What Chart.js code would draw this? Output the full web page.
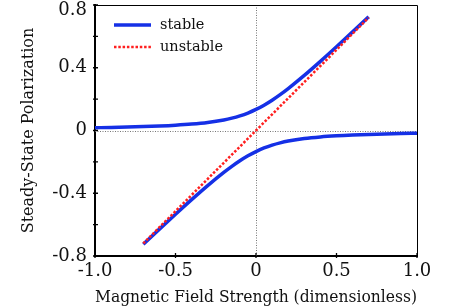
<!DOCTYPE html>
<html>
<head>
<meta charset="utf-8">
<script src="https://cdn.jsdelivr.net/npm/chart.js@4/dist/chart.umd.min.js"></script>
<style>
  html, body { margin: 0; padding: 0; background: #fff; }
</style>
</head>
<body>
<canvas id="polChart" width="471" height="308"></canvas>
<script>
// stable branch, upper
const xUpper = [-1.0, -0.9, -0.8, -0.7, -0.6, -0.5, -0.4, -0.3, -0.2, -0.15, -0.1, -0.05, 0, 0.05, 0.1, 0.15, 0.2, 0.3, 0.4, 0.5, 0.6, 0.7];
const yUpper = [0.0177, 0.0196, 0.0219, 0.0248, 0.0286, 0.0337, 0.0408, 0.0512, 0.0673, 0.0787, 0.0932, 0.1115, 0.1342, 0.1615, 0.1932, 0.2287, 0.2673, 0.3512, 0.4408, 0.5337, 0.6286, 0.7249];
// stable branch, lower
const xLower = [-0.7, -0.6, -0.5, -0.4, -0.3, -0.2, -0.15, -0.1, -0.05, 0, 0.05, 0.1, 0.15, 0.2, 0.3, 0.4, 0.5, 0.6, 0.7, 0.8, 0.9, 1.0];
const yLower = [-0.7249, -0.6286, -0.5337, -0.4408, -0.3512, -0.2673, -0.2287, -0.1932, -0.1615, -0.1342, -0.1115, -0.0932, -0.0787, -0.0673, -0.0512, -0.0408, -0.0337, -0.0286, -0.0248, -0.0219, -0.0196, -0.0177];
// unstable branch
const xUnstable = [-0.7, 0, 0.7];
const yUnstable = [-0.72, 0, 0.72];

const xTickLabels = [-1, -0.5, 0, 0.5, 1];
const yTickLabels = [-0.8, -0.4, 0, 0.4, 0.8];
const seriesNames = ['stable', 'unstable'];

const BLUE = '#1530e6';
const RED = '#ff1f1f';
const FONT = 'DejaVu Serif';

const toPoints = (xs, ys) => xs.map((x, i) => ({ x: x, y: ys[i] }));

const fmt = v => {
    const r = Math.round(v * 10) / 10;
    return r === 0 ? '0' : r.toFixed(1);
};
const isTop = v => Math.abs(v - 0.8) < 1e-6;

// zero lines, frame, inward ticks and legend
const decorations = {
    id: 'decorations',
    beforeDatasetsDraw(chart) {
        const { ctx, chartArea: a, scales: { x, y } } = chart;
        ctx.save();
        ctx.strokeStyle = '#777';
        ctx.lineWidth = 1;
        ctx.setLineDash([1, 1.5]);
        const x0 = Math.round(x.getPixelForValue(0)) + 0.5;
        const y0 = Math.round(y.getPixelForValue(0)) + 0.5;
        ctx.beginPath();
        ctx.moveTo(x0, a.top); ctx.lineTo(x0, a.bottom);
        ctx.moveTo(a.left, y0); ctx.lineTo(a.right, y0);
        ctx.stroke();
        ctx.restore();
    },
    afterDatasetsDraw(chart) {
        const { ctx, chartArea: a, scales: { x, y } } = chart;
        ctx.save();
        ctx.strokeStyle = '#000';
        ctx.lineWidth = 1;
        ctx.beginPath();
        ctx.moveTo(a.left, a.top + 0.5); ctx.lineTo(a.right + 0.5, a.top + 0.5);
        ctx.lineTo(a.right + 0.5, a.bottom);
        ctx.stroke();

        ctx.lineWidth = 1.3;
        ctx.beginPath();
        y.ticks.forEach(t => {
            const py = y.getPixelForValue(t.value);
            ctx.moveTo(a.left - 2, py); ctx.lineTo(a.left + 3, py);
        });
        x.ticks.forEach(t => {
            const px = x.getPixelForValue(t.value);
            ctx.moveTo(px, a.bottom + 2); ctx.lineTo(px, a.bottom - 3);
        });
        ctx.stroke();

        // legend
        const styles = [
            { color: BLUE, width: 3.5, dash: [] },
            { color: RED, width: 2.5, dash: [2.5, 1.8] }
        ];
        ctx.font = '14.5px "' + FONT + '"';
        ctx.textBaseline = 'middle';
        ctx.fillStyle = '#111';
        seriesNames.forEach((name, i) => {
            const ly = 25 + i * 22;
            ctx.strokeStyle = styles[i].color;
            ctx.lineWidth = styles[i].width;
            ctx.setLineDash(styles[i].dash);
            ctx.beginPath();
            ctx.moveTo(a.left + 19, ly); ctx.lineTo(a.left + 56, ly);
            ctx.stroke();
            ctx.fillText(name, a.left + 65, ly);
        });
        ctx.restore();
    }
};

const polCtx = document.getElementById('polChart').getContext('2d');
const polChart = new Chart(polCtx, {
    type: 'scatter',
    data: {
        datasets: [{
            label: seriesNames[1],
            data: toPoints(xUnstable, yUnstable),
            showLine: true,
            borderColor: RED,
            borderWidth: 2.5,
            borderDash: [2.5, 1.8],
            pointRadius: 0,
        }, {
            label: seriesNames[0],
            data: toPoints(xUpper, yUpper),
            showLine: true,
            borderColor: BLUE,
            borderWidth: 3.5,
            pointRadius: 0,
            cubicInterpolationMode: 'monotone',
        }, {
            label: seriesNames[0] + ' (lower)',
            data: toPoints(xLower, yLower),
            showLine: true,
            borderColor: BLUE,
            borderWidth: 3.5,
            pointRadius: 0,
            cubicInterpolationMode: 'monotone',
        }]
    },
    options: {
        responsive: false,
        animation: false,
        layout: { padding: { top: 5, right: 54, left: 0, bottom: 0 } },
        plugins: {
            legend: { display: false },
            tooltip: { enabled: false },
        },
        scales: {
            x: {
                type: 'linear',
                min: -1, max: 1,
                grid: { display: false, drawTicks: false },
                border: { display: true, color: '#000', width: 2 },
                ticks: {
                    stepSize: 0.5,
                    autoSkip: false,
                    maxRotation: 0,
                    padding: 5,
                    color: '#111',
                    font: { family: FONT, size: 18 },
                    callback: v => xTickLabels.includes(Math.round(v * 10) / 10) ? fmt(v) : '',
                },
                title: {
                    display: true,
                    text: 'Magnetic Field Strength (dimensionless)',
                    color: '#111',
                    font: { family: FONT, size: 16 },
                    padding: { top: 0, bottom: 1 },
                },
                afterFit: s => { s.height = 52; s.paddingLeft = 0; s.paddingRight = 0; },
            },
            y: {
                type: 'linear',
                min: -0.8, max: 0.8,
                grid: { display: false, drawTicks: false },
                border: { display: true, color: '#000', width: 2 },
                ticks: {
                    stepSize: 0.2,
                    autoSkip: false,
                    padding: 8,
                    color: '#111',
                    // top label sits a little lower so it stays inside the canvas
                    font: c => ({ family: FONT, size: 18, lineHeight: c.tick && isTop(c.tick.value) ? 0.6 : 1.2 }),
                    callback: v => {
                        if (!yTickLabels.includes(Math.round(v * 10) / 10)) return '';
                        return isTop(v) ? ['', fmt(v)] : fmt(v);
                    },
                },
                title: {
                    display: true,
                    text: 'Steady-State Polarization',
                    color: '#111',
                    font: { family: FONT, size: 16 },
                    padding: { top: 19, bottom: 0 },
                },
                afterFit: s => { s.width = 95; s.paddingTop = 0; s.paddingBottom = 0; },
            }
        }
    },
    plugins: [decorations]
});
</script>
</body>
</html>
